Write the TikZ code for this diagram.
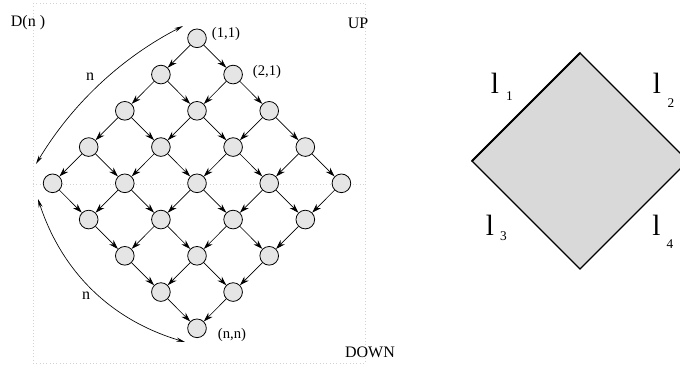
\documentclass[tikz,border=0pt]{standalone}
\usepackage{fontspec}
\setmainfont{Liberation Serif}
\usetikzlibrary{arrows.meta}
\begin{document}
\begin{tikzpicture}[x=0.75pt,y=-0.75pt,
  cell/.style={circle,draw=black,fill=gray!20,line width=0.6pt,minimum size=14pt,inner sep=0pt},
  flow/.style={-{Stealth[length=7pt,width=4.5pt]},line width=0.5pt},
  span/.style={{Stealth[length=6.5pt,width=3pt]}-{Stealth[length=6.5pt,width=3pt]},line width=0.5pt},
  frame/.style={draw=gray!35,dotted,line width=0.5pt},
  lab/.style={font=\fontsize{12}{13}\selectfont,inner sep=0pt},
  small/.style={font=\fontsize{11}{12}\selectfont,inner sep=0pt},
  big/.style={font=\fontsize{22}{23}\selectfont,inner sep=0pt,anchor=base},
  sub/.style={font=\fontsize{10}{11}\selectfont,inner sep=0pt,anchor=base}]
\useasboundingbox (0,0) rectangle (680,365);
% faint frame
\draw[frame] (33,3) rectangle (365,363);
\draw[frame] (33,184) -- (365,184);
% lattice nodes
\foreach \i in {1,...,5}{\foreach \j in {1,...,5}{
  \node[cell] (n\i\j) at ({197+(\i-\j)*36.1},{38.3+(\i+\j-2)*36.25}) {};}}
% lattice arrows
\foreach \i in {1,...,4}{\foreach \j in {1,...,5}{
  \pgfmathtruncatemacro\ni{\i+1}
  \draw[flow] (n\i\j) -- (n\ni\j);
  \draw[flow] (n\j\i) -- (n\j\ni);}}
% curved arrows
\coordinate (ta) at (36,164);
\coordinate (tb) at (183,26);
\coordinate (ba) at (38,199);
\coordinate (bb) at (185,342);
\draw[span] (ta) .. controls (72,104) and (121,58) .. (tb);
\draw[span] (ba) .. controls (62,272) and (111,320) .. (bb);
% labels
\node[lab] (dn) at (28,23) {D(n )};
\node[lab] (up) at (358,23) {UP};
\node[lab] (down) at (370,352) {DOWN};
\node[lab] (nt) at (90,77) {n};
\node[lab] (nb) at (86,296) {n};
\node[small] (l11) at (226,34) {(1,1)};
\node[small] (l21) at (267,72) {(2,1)};
\node[small] (lnn) at (232,335) {(n,n)};
% diamond
\coordinate (dt) at (580,53);
\coordinate (dl) at (472,161);
\coordinate (db) at (580,269);
\coordinate (dr) at (688,161);
\begin{scope}
\clip (0,0) rectangle (680,365);
\filldraw[fill=gray!30,draw=black,line width=1pt] (dt) -- (dl) -- (db) -- (dr) -- cycle;
\draw[line width=1.5pt,line cap=round] (dl) -- (dt);
\end{scope}
\node[big] (la) at (495,93) {l};
\node[sub] (sa) at (509.5,100) {1};
\node[big] (lb) at (657,93) {l};
\node[sub] (sb) at (671,107) {2};
\node[big] (lc) at (490,235) {l};
\node[sub] (sc) at (503.5,240) {3};
\node[big] (ld) at (656.5,235) {l};
\node[sub] (sd) at (670,248) {4};
\end{tikzpicture}
\end{document}
